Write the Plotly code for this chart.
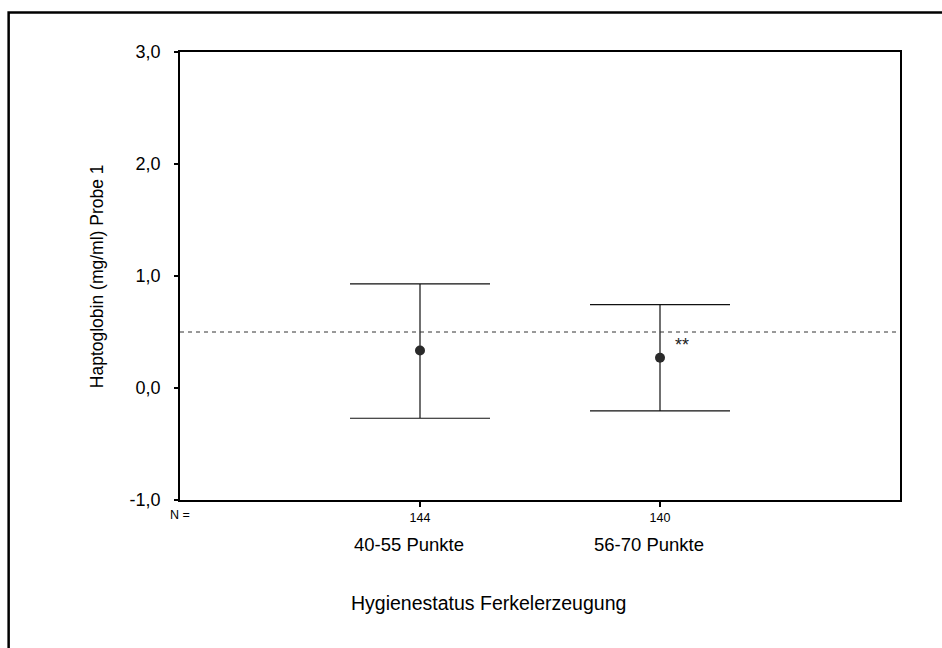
import plotly.graph_objects as go

categories = ["40-55 Punkte", "56-70 Punkte"]
n_values = ["144", "140"]
positions = [1, 2]
means = [0.335, 0.27]
upper = [0.93, 0.745]
lower = [-0.27, -0.205]
reference_line = 0.5
y_ticks = [-1, 0, 1, 2, 3]
y_tick_labels = ["-1,0", "0,0", "1,0", "2,0", "3,0"]

err_plus = [u - m for u, m in zip(upper, means)]
err_minus = [m - l for m, l in zip(means, lower)]

FONT = "Liberation Sans, Arial, sans-serif"

fig = go.Figure()
fig.add_trace(go.Scatter(
    x=positions, y=means, mode="markers",
    marker=dict(size=10, color="#2a2a2a", symbol="circle"),
    error_y=dict(type="data", symmetric=False, array=err_plus, arrayminus=err_minus,
                 width=70, thickness=1.2, color="#111111"),
    showlegend=False, hoverinfo="skip",
))

fig.add_shape(type="line", xref="paper", x0=0, x1=1, yref="y", y0=reference_line, y1=reference_line,
              line=dict(color="#333333", width=1, dash="4px,4px"))

# outer frame
fig.add_shape(type="rect", xref="paper", yref="paper", x0=-0.238, x1=1.3, y0=-0.6, y1=1.088,
              line=dict(color="black", width=2.5))

def ann(**kw):
    base = dict(showarrow=False, xanchor="center", yanchor="middle")
    base.update(kw)
    return base

annotations = []
for p, c in zip(positions, categories):
    annotations.append(ann(x=p, xref="x", y=-0.1, yref="paper", text=c, xshift=-11,
                           font=dict(size=18.5, color="black", family=FONT)))
annotations.append(ann(x=0, xref="x", y=-0.034, yref="paper", text="N =",
                       font=dict(size=12.5, color="black", family=FONT)))
annotations.append(ann(x=0.428, xref="paper", y=-0.23, yref="paper", text="Hygienestatus Ferkelerzeugung",
                       font=dict(size=19.5, color="black", family=FONT)))
annotations.append(ann(x=-0.115, xref="paper", y=0.5, yref="paper", text="Haptoglobin (mg/ml) Probe 1",
                       textangle=-90, font=dict(size=17.5, color="black", family=FONT)))
annotations.append(ann(x=positions[1], xref="x", y=means[1], yref="y", text="**",
                       xshift=22, yshift=13, font=dict(size=18, color="#222222", family=FONT)))

fig.update_layout(
    width=942, height=648,
    margin=dict(l=180, r=42, t=52, b=148),
    plot_bgcolor="white", paper_bgcolor="white",
    font=dict(family=FONT, color="black"),
    annotations=annotations,
    xaxis=dict(range=[0, 3], tickvals=positions, ticktext=n_values, ticks="outside", ticklen=5,
               tickcolor="black", tickwidth=2, tickfont=dict(size=12.5, family=FONT), showgrid=False,
               zeroline=False, showline=True, linecolor="black", linewidth=1.5, mirror=True),
    yaxis=dict(range=[-1, 3], tickvals=y_ticks, ticktext=y_tick_labels, ticks="outside", ticklen=4,
               tickwidth=2, tickcolor="black", tickfont=dict(size=18, family=FONT), showgrid=False,
               ticklabelstandoff=10,
               zeroline=False, showline=True, linecolor="black", linewidth=1.5, mirror=True),
)

fig.write_html("out.html", config={"displayModeBar": False},
               post_script="document.body.style.margin='0px';")
